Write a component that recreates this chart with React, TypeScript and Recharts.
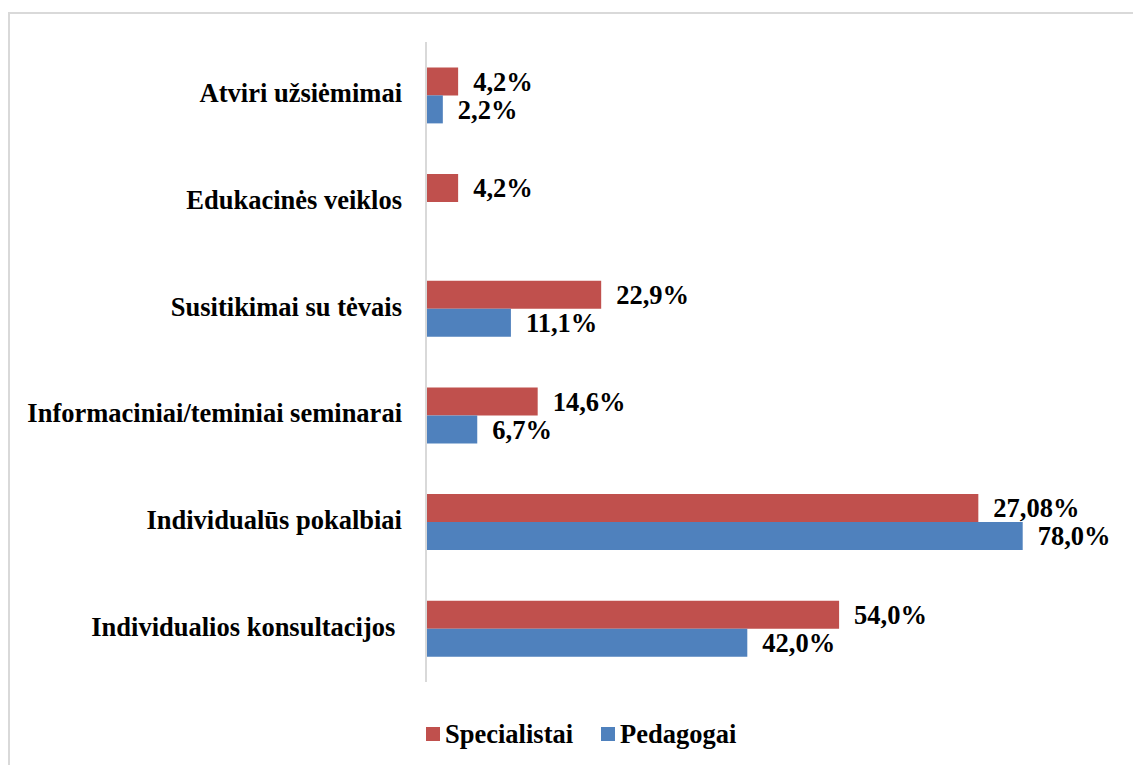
import React from 'react';
import { BarChart, Bar, XAxis, YAxis, Legend, LabelList } from 'recharts';

const categories = [
  'Atviri užsiėmimai',
  'Edukacinės veiklos',
  'Susitikimai su tėvais',
  'Informaciniai/teminiai seminarai',
  'Individualūs pokalbiai',
  'Individualios konsultacijos ',
];
const specialistaiValues = [4.2, 4.2, 22.9, 14.6, 72.2, 54.0];
const pedagogaiValues: (number | null)[] = [2.2, null, 11.1, 6.7, 78.0, 42.0];
const specialistaiLabels = ['4,2%', '4,2%', '22,9%', '14,6%', '27,08%', '54,0%'];
const pedagogaiLabels = ['2,2%', '', '11,1%', '6,7%', '78,0%', '42,0%'];
const seriesNames = ['Specialistai', 'Pedagogai'];
const colors = ['#C0504D', '#4F81BD'];

const data = categories.map((c, i) => ({
  name: c,
  spec: specialistaiValues[i],
  ped: pedagogaiValues[i],
  specLabel: specialistaiLabels[i],
  pedLabel: pedagogaiLabels[i],
}));

const FONT = '"Liberation Serif", "Times New Roman", serif';
const FS = 26.5;

const CategoryTick = (props: any) => {
  const { x, y, payload } = props;
  return (
    <text
      x={x}
      y={y}
      dy={7}
      textAnchor="end"
      fontFamily={FONT}
      fontWeight="bold"
      fontSize={FS}
      fill="#000"
      style={{ whiteSpace: 'pre' }}
    >
      {payload.value}
    </text>
  );
};

const LegendContent = () => (
  <div style={{ display: 'flex', alignItems: 'center', fontFamily: FONT, fontWeight: 'bold', fontSize: FS, lineHeight: '30px', color: '#000' }}>
    {seriesNames.map((n, i) => (
      <div key={n} style={{ display: 'flex', alignItems: 'center', marginRight: i === 0 ? 28 : 0 }}>
        <span style={{ display: 'inline-block', width: 14, height: 14, background: colors[i], marginRight: 5 }} />
        <span>{n}</span>
      </div>
    ))}
  </div>
);

export default function App() {
  return (
    <div>
      <div
        style={{
          position: 'absolute',
          left: 8,
          top: 12,
          width: 1125,
          height: 753,
          borderLeft: '2px solid #d9d9d9',
          borderTop: '2px solid #d9d9d9',
          boxSizing: 'border-box',
        }}
      />
      <div style={{ position: 'absolute', left: 0, top: 0 }}>
        <BarChart
          width={1133}
          height={765}
          data={data}
          layout="vertical"
          margin={{ top: 42, right: 18.5, bottom: 83, left: 0 }}
          barCategoryGap="23.8%"
          barGap={0}
        >
          <XAxis type="number" domain={[0, 90]} hide />
          <YAxis
            type="category"
            dataKey="name"
            width={426}
            tickLine={false}
            axisLine={{ stroke: '#d9d9d9', strokeWidth: 2 }}
            tick={<CategoryTick />}
            tickMargin={18}
            interval={0}
          />
          <Legend
            verticalAlign="middle"
            align="center"
            content={<LegendContent />}
            wrapperStyle={{ top: 719, left: 426, width: 400, height: 30 }}
          />
          <Bar dataKey="spec" name={seriesNames[0]} fill={colors[0]} isAnimationActive={false}>
            <LabelList dataKey="specLabel" position="right" offset={15} fontFamily={FONT} fontWeight="bold" fontSize={FS} fill="#000" />
          </Bar>
          <Bar dataKey="ped" name={seriesNames[1]} fill={colors[1]} isAnimationActive={false}>
            <LabelList dataKey="pedLabel" position="right" offset={15} fontFamily={FONT} fontWeight="bold" fontSize={FS} fill="#000" />
          </Bar>
        </BarChart>
      </div>
    </div>
  );
}
